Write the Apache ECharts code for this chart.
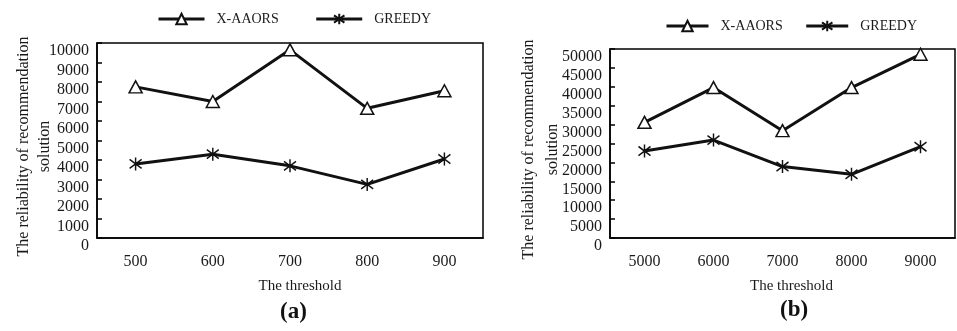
<!DOCTYPE html>
<html>
<head>
<meta charset="utf-8">
<script src="https://cdn.jsdelivr.net/npm/echarts@6/dist/echarts.min.js"></script>
<style>
  html, body { margin: 0; padding: 0; background: #fff; }
  #main { width: 957px; height: 331px; }
</style>
</head>
<body>
<div id="main"></div>
<script>
// panel (a)
var thresholdsA = ['500', '600', '700', '800', '900']
var aaorsA = [7750, 7000, 9650, 6650, 7550]
var greedyA = [3800, 4300, 3700, 2750, 4050]
// panel (b)
var thresholdsB = ['5000', '6000', '7000', '8000', '9000']
var aaorsB = [30600, 39800, 28400, 39800, 48600]
var greedyB = [23000, 25900, 18900, 16850, 24150]

var serif = 'Liberation Serif'
var ink = '#1a1a1a'
// asterisk marker: vertical bar plus an X
var star = 'path://M5,0 L5,10 M0.8,1.5 L9.2,8.5 M9.2,1.5 L0.8,8.5'

function xAxis(idx, cats, shift) {
  return {
    type: 'category',
    gridIndex: idx,
    data: cats,
    boundaryGap: true,
    name: 'The threshold',
    nameLocation: 'middle',
    nameGap: 41,
    nameMoveOverlap: false,
    nameTextStyle: { fontFamily: serif, fontSize: 15, color: ink, padding: [0, 0, 0, shift] },
    axisLine: { lineStyle: { color: '#000', width: 1.5 } },
    axisTick: { inside: true, length: 5, lineStyle: { color: '#000', width: 1.5 } },
    axisLabel: { fontFamily: serif, fontSize: 16, color: ink, margin: 16 }
  }
}

function yAxis(idx, max, step, gap, lh) {
  return {
    type: 'value',
    gridIndex: idx,
    min: 0,
    max: max,
    interval: step,
    name: 'The reliability of recommendation\nsolution',
    nameLocation: 'middle',
    nameGap: gap,
    nameMoveOverlap: false,
    nameTextStyle: { fontFamily: serif, fontSize: 16, color: ink, lineHeight: lh, padding: [0, 12, 0, 0] },
    splitLine: { show: false },
    axisLine: { show: true, lineStyle: { color: '#000', width: 1.5 } },
    axisTick: { show: true, inside: true, length: 5, lineStyle: { color: '#000', width: 1.5 } },
    axisLabel: {
      fontFamily: serif, fontSize: 16, color: ink, margin: 8, verticalAlign: 'top',
      formatter: function (v) { return String(v) }
    }
  }
}

function series(name, idx, data, symbol, size) {
  return {
    name: name,
    type: 'line',
    xAxisIndex: idx,
    yAxisIndex: idx,
    data: data,
    symbol: symbol,
    symbolSize: size,
    showAllSymbol: true,
    lineStyle: { color: '#111', width: 3 },
    itemStyle: { color: '#fff', borderColor: '#111', borderWidth: 1.5 },
    z: 3
  }
}

function legend(left, top, width, gap) {
  return {
    left: left,
    top: top,
    padding: 0,
    itemWidth: width,
    itemHeight: 13,
    itemGap: gap,
    data: ['X-AAORS', 'GREEDY'],
    lineStyle: { width: 3 },
    textStyle: { fontFamily: serif, fontSize: 14, color: ink, padding: [0, 0, 0, 7] }
  }
}

var chart = echarts.init(document.getElementById('main'))
var option = {
  backgroundColor: '#fff',
  animation: false,
  legend: [legend(157, 12, 46, 36), legend(665, 19, 42, 22)],
  grid: [
    { left: 97, top: 43, width: 386, height: 195, show: true, borderColor: '#000', borderWidth: 1.5 },
    { left: 610, top: 49, width: 345, height: 189, show: true, borderColor: '#000', borderWidth: 1.5 }
  ],
  xAxis: [xAxis(0, thresholdsA, 20), xAxis(1, thresholdsB, 18)],
  yAxis: [yAxis(0, 10000, 1000, 42, 21), yAxis(1, 50000, 5000, 45, 24)],
  series: [
    series('X-AAORS', 0, aaorsA, 'triangle', [13, 12]),
    series('GREEDY', 0, greedyA, star, [12, 13]),
    series('X-AAORS', 1, aaorsB, 'triangle', [13, 12]),
    series('GREEDY', 1, greedyB, star, [12, 13])
  ],
  graphic: [
    { type: 'text', left: 280, top: 301, style: { text: '(a)', font: 'bold 23px "Liberation Serif"', fill: '#111' } },
    { type: 'text', left: 780, top: 299, style: { text: '(b)', font: 'bold 23px "Liberation Serif"', fill: '#111' } }
  ]
}
chart.setOption(option)
</script>
</body>
</html>
